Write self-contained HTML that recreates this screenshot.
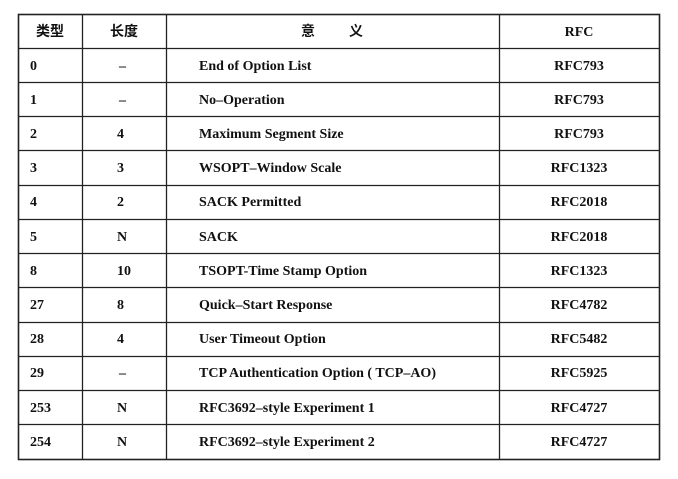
<!DOCTYPE html>
<html><head><meta charset="utf-8"><style>
html,body{margin:0;padding:0;background:#fff;width:678px;height:479px;overflow:hidden}
text{font-family:"Liberation Serif","Noto Serif CJK SC",serif;font-size:14px;fill:#111;font-weight:bold}
.h{font-family:"Liberation Sans","Noto Sans CJK SC",sans-serif;font-size:14px}
</style></head><body>
<svg width="678" height="479" xmlns="http://www.w3.org/2000/svg">
<g stroke="#222" stroke-width="1.3" fill="none">
<rect x="18.5" y="14.5" width="641" height="445" stroke-width="1.6"/>
<line x1="82.5" y1="14" x2="82.5" y2="460"/>
<line x1="166.5" y1="14" x2="166.5" y2="460"/>
<line x1="499.5" y1="14" x2="499.5" y2="460"/>
<line x1="18" y1="48.5" x2="660" y2="48.5"/>
<line x1="18" y1="82.5" x2="660" y2="82.5"/>
<line x1="18" y1="116.5" x2="660" y2="116.5"/>
<line x1="18" y1="150.5" x2="660" y2="150.5"/>
<line x1="18" y1="185.5" x2="660" y2="185.5"/>
<line x1="18" y1="219.5" x2="660" y2="219.5"/>
<line x1="18" y1="253.5" x2="660" y2="253.5"/>
<line x1="18" y1="287.5" x2="660" y2="287.5"/>
<line x1="18" y1="322.5" x2="660" y2="322.5"/>
<line x1="18" y1="356.5" x2="660" y2="356.5"/>
<line x1="18" y1="390.5" x2="660" y2="390.5"/>
<line x1="18" y1="424.5" x2="660" y2="424.5"/>
</g>
<text class="h" x="50" y="36" text-anchor="middle">类型</text>
<text class="h" x="124" y="36" text-anchor="middle">长度</text>
<text class="h" x="301" y="36">意</text>
<text class="h" x="349" y="36">义</text>
<text x="579" y="36" text-anchor="middle">RFC</text>
<g>
<text x="30" y="70">0</text><text x="119" y="70">–</text><text x="199" y="70">End of Option List</text><text x="579" y="70" text-anchor="middle">RFC793</text>
<text x="30" y="104">1</text><text x="119" y="104">–</text><text x="199" y="104">No–Operation</text><text x="579" y="104" text-anchor="middle">RFC793</text>
<text x="30" y="138">2</text><text x="117" y="138">4</text><text x="199" y="138">Maximum Segment Size</text><text x="579" y="138" text-anchor="middle">RFC793</text>
<text x="30" y="172">3</text><text x="117" y="172">3</text><text x="199" y="172">WSOPT–Window Scale</text><text x="579" y="172" text-anchor="middle">RFC1323</text>
<text x="30" y="206">4</text><text x="117" y="206">2</text><text x="199" y="206">SACK Permitted</text><text x="579" y="206" text-anchor="middle">RFC2018</text>
<text x="30" y="241">5</text><text x="117" y="241">N</text><text x="199" y="241">SACK</text><text x="579" y="241" text-anchor="middle">RFC2018</text>
<text x="30" y="275">8</text><text x="117" y="275">10</text><text x="199" y="275">TSOPT-Time Stamp Option</text><text x="579" y="275" text-anchor="middle">RFC1323</text>
<text x="30" y="309">27</text><text x="117" y="309">8</text><text x="199" y="309">Quick–Start Response</text><text x="579" y="309" text-anchor="middle">RFC4782</text>
<text x="30" y="343">28</text><text x="117" y="343">4</text><text x="199" y="343">User Timeout Option</text><text x="579" y="343" text-anchor="middle">RFC5482</text>
<text x="30" y="377">29</text><text x="119" y="377">–</text><text x="199" y="377">TCP Authentication Option ( TCP–AO)</text><text x="579" y="377" text-anchor="middle">RFC5925</text>
<text x="30" y="412">253</text><text x="117" y="412">N</text><text x="199" y="412">RFC3692–style Experiment 1</text><text x="579" y="412" text-anchor="middle">RFC4727</text>
<text x="30" y="446">254</text><text x="117" y="446">N</text><text x="199" y="446">RFC3692–style Experiment 2</text><text x="579" y="446" text-anchor="middle">RFC4727</text>
</g>
</svg>
</body></html>
